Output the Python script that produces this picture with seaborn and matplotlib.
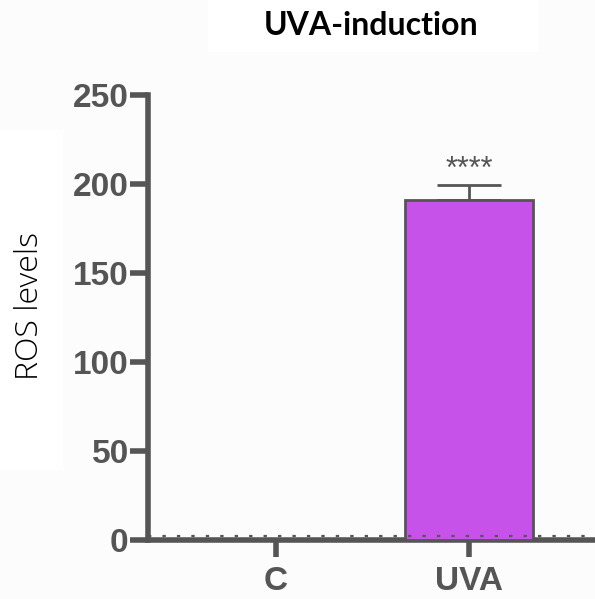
import matplotlib
matplotlib.use("Agg")
import matplotlib.pyplot as plt
import matplotlib.transforms as mtransforms
from matplotlib.patches import Rectangle
import seaborn as sns
import pandas as pd

categories = ["C", "UVA"]
values = [0, 191]
errors = [0, 8.5]
significance = ["", "****"]
y_ticks = [0, 50, 100, 150, 200, 250]

sns.set_style("ticks")
plt.rcParams['font.family'] = ['Liberation Sans', 'DejaVu Sans']

df = pd.DataFrame({"group": categories, "ros": values})

fig = plt.figure(figsize=(5.95, 5.99), dpi=100, facecolor="#fcfcfc")

# white panels behind title and y label
fig.patches.append(Rectangle((0.35, 0.913), 0.554, 0.087, transform=fig.transFigure,
                             facecolor="white", edgecolor="none", zorder=0))
fig.patches.append(Rectangle((0.0, 0.215), 0.106, 0.568, transform=fig.transFigure,
                             facecolor="white", edgecolor="none", zorder=0))

ax = fig.add_axes([0.249, 0.0985, 0.751, 0.7425])
ax.set_facecolor("none")

grey = "#555555"
sns.barplot(data=df, x="group", y="ros", ax=ax, color="#c652e9",
            edgecolor=grey, linewidth=2, width=0.66, saturation=1, errorbar=None)
for p in ax.patches:
    p.set_zorder(3)

xs = list(range(len(categories)))
for x, v, e, s in zip(xs, values, errors, significance):
    if e > 0:
        ax.errorbar([x], [v], yerr=[[0], [e]], fmt="none", ecolor=grey,
                    elinewidth=2, capsize=23, capthick=2, zorder=2)
    if s:
        ax.text(x, v + e + 4, s, ha="center", va="baseline", fontsize=22,
                color=grey)

# dotted baseline sitting on top of the x axis
off = mtransforms.offset_copy(ax.get_yaxis_transform(), fig=fig, x=0, y=3.5, units="dots")
ax.plot([0, 1], [0, 0], transform=off, color=grey, ls=(0, (1.5, 5)),
        lw=1.6, zorder=5, clip_on=False)

ax.set_ylim(0, 250)
ax.set_xlim(-0.66, 1.65)
ax.set_yticks(y_ticks)
ax.set_xlabel("")
ax.set_ylabel("")
sns.despine(ax=ax)
for side in ["left", "bottom"]:
    ax.spines[side].set_linewidth(4)
    ax.spines[side].set_color(grey)
ax.tick_params(axis="y", length=13, width=4, color=grey, labelsize=24,
               labelcolor=grey, pad=1)
ax.tick_params(axis="x", length=12, width=4, color=grey, labelsize=24,
               labelcolor=grey, pad=7)
for lbl in ax.get_xticklabels() + ax.get_yticklabels():
    lbl.set_fontweight("bold")

fig.text(0.623, 0.958, "UVA-induction", ha="center", va="center",
         fontsize=23, fontweight="bold", family=["Lato", "DejaVu Sans"],
         color="black")
fig.text(0.05, 0.489, "ROS levels", ha="center", va="center", rotation=90,
         fontsize=23, family=["Open Sans", "DejaVu Sans"], fontweight="light",
         color="black")

fig.savefig("out.png", dpi=100, facecolor=fig.get_facecolor())
